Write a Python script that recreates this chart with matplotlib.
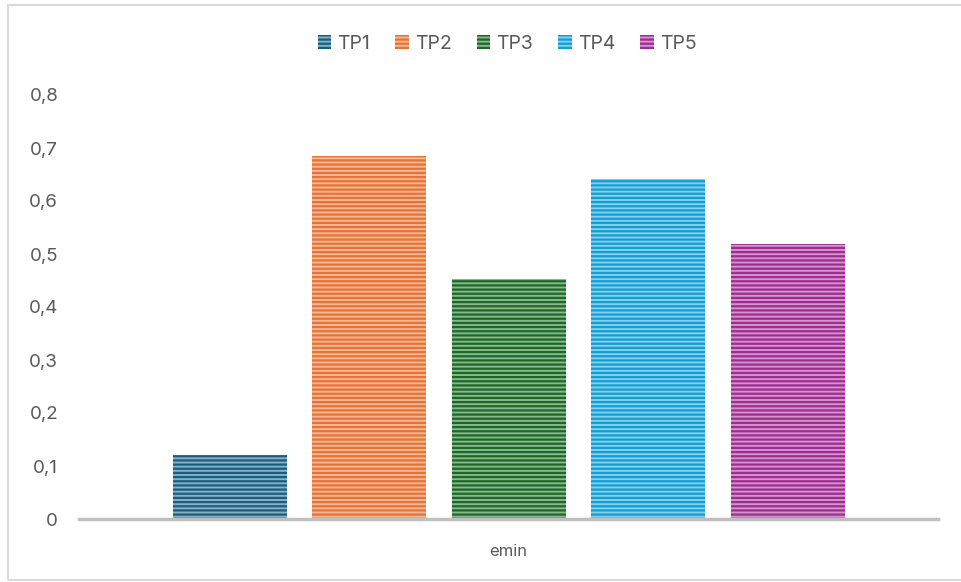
import matplotlib.pyplot as plt
import matplotlib.patches as mpatches

series = ['TP1', 'TP2', 'TP3', 'TP4', 'TP5']
values = [0.12, 0.685, 0.452, 0.642, 0.518]
colors = ['#156082', '#E97132', '#196B24', '#0F9ED5', '#A02B93']
category = 'emin'
yticks = [0, 0.1, 0.2, 0.3, 0.4, 0.5, 0.6, 0.7, 0.8]


def lighten(hexcol, amount):
    r, g, b = [int(hexcol[i:i + 2], 16) / 255 for i in (1, 3, 5)]
    return (r + (1 - r) * amount, g + (1 - g) * amount, b + (1 - b) * amount)


plt.rcParams['hatch.linewidth'] = 1.6
plt.rcParams['font.family'] = 'Inter'

fig = plt.figure(figsize=(9.61, 5.82), dpi=100)
ax = fig.add_axes([79 / 961, 1 - 519 / 582, 859 / 961, 424 / 582])

# outer chart border
fig.patches.append(mpatches.Rectangle((8 / 961, 1 - 580 / 582), 1.0, 575 / 582,
                                      transform=fig.transFigure, fill=False,
                                      edgecolor='#D9D9D9', linewidth=1.5))

width = 114 / 859
step = 139.5 / 859
bars = []
for i, (name, v, c) in enumerate(zip(series, values, colors)):
    b = ax.bar((i - 2) * step, v, width, color=lighten(c, 0.5), edgecolor=c,
               hatch='----', linewidth=0, label=name)
    bars.append(b)

ax.set_xlim(-0.5, 0.5)
ax.set_ylim(0, 0.8)
ax.set_yticks(yticks)
ax.set_yticklabels([('%g' % t).replace('.', ',') for t in yticks],
                   fontsize=13.5, color='#595959')
ax.tick_params(axis='y', length=0, pad=15)
ax.set_xticks([0])
ax.set_xticklabels([category], fontsize=12, color='#595959')
ax.tick_params(axis='x', length=0, pad=18)

for s in ['top', 'right', 'left']:
    ax.spines[s].set_visible(False)
ax.spines['bottom'].set_color('#BFBFBF')
ax.spines['bottom'].set_linewidth(2.5)

fig.legend(handles=[b[0] for b in bars], labels=series, loc='center',
           bbox_to_anchor=(507 / 961, 1 - 44 / 582), ncol=5, frameon=False,
           fontsize=14, labelcolor='#595959', handlelength=0.7, handleheight=0.7,
           handletextpad=0.3, columnspacing=1.3)

fig.savefig('out.png', dpi=100)
